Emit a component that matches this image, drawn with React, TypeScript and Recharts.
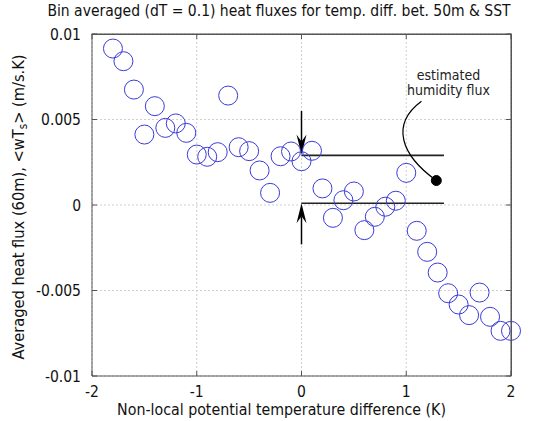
import React from 'react';
import {
  ScatterChart,
  Scatter,
  XAxis,
  YAxis,
  CartesianGrid,
  ReferenceLine,
  ReferenceDot,
} from 'recharts';

const FONT = '"DejaVu Sans Condensed", "DejaVu Sans", sans-serif';

// bin centres (K) and averaged heat flux (m/s.K)
const binTemps = [
  -1.8, -1.7, -1.6, -1.5, -1.4, -1.3, -1.2, -1.1, -1.0, -0.9, -0.8, -0.7, -0.6,
  -0.5, -0.4, -0.3, -0.2, -0.1, 0.0, 0.1, 0.2, 0.3, 0.4, 0.5, 0.6, 0.7, 0.8,
  0.9, 1.0, 1.1, 1.2, 1.3, 1.4, 1.5, 1.6, 1.7, 1.8, 1.9, 2.0,
];
const heatFlux = [
  0.00915, 0.00841, 0.00675, 0.00412, 0.00578, 0.00451, 0.00477, 0.00422,
  0.00295, 0.00282, 0.00309, 0.0064, 0.00338, 0.00315, 0.00202, 0.00071,
  0.00285, 0.00313, 0.00256, 0.00317, 0.00097, -0.00075, 0.00028, 0.00079,
  -0.00147, -0.00069, -0.0001, 0.00025, 0.00188, -0.00151, -0.00274, -0.00395,
  -0.00516, -0.00582, -0.00644, -0.00512, -0.00654, -0.00736, -0.00736,
];

const xTicks = [-2, -1, 0, 1, 2];
const yTicks = [-0.01, -0.005, 0, 0.005, 0.01];
const xMin = xTicks[0];
const xMax = xTicks[xTicks.length - 1];
const yMin = yTicks[0];
const yMax = yTicks[yTicks.length - 1];

// annotation anchors (data units)
const upperLevel = 0.0029;
const lowerLevel = 0.0001;
const lineEndX = 1.36;
const upperArrowFrom = 0.0055;
const lowerArrowFrom = -0.0023;
const noteStart = { x: 1.145, y: 0.00607 };
const noteDot = { x: 1.287, y: 0.00143 };
const noteLines = ['estimated', 'humidity flux'];

const data = binTemps.map((t, i) => ({ x: t, y: heatFlux[i] }));

const W = 558;
const H = 421;
const MARGIN = { top: 34, right: 47, left: 0, bottom: 0 };
const Y_AXIS_W = 92;
const X_AXIS_H = 45;
const FRAME = '#555';

const Ring = (props: any) => {
  if (props.cx == null || props.cy == null) return null;
  return <circle cx={props.cx} cy={props.cy} r={9.5} fill="none" stroke="#3b3bd8" strokeWidth={1} />;
};

const Arrow = (props: any) => {
  const { x1, y1, x2, y2 } = props;
  const len = Math.hypot(x2 - x1, y2 - y1) || 1;
  const ux = (x2 - x1) / len;
  const uy = (y2 - y1) / len;
  const nx = -uy;
  const ny = ux;
  const L = 20;
  const hw = 5;
  const notchX = x2 - ux * 13;
  const notchY = y2 - uy * 13;
  const pts = [
    [x2, y2],
    [x2 - ux * L + nx * hw, y2 - uy * L + ny * hw],
    [notchX, notchY],
    [x2 - ux * L - nx * hw, y2 - uy * L - ny * hw],
  ]
    .map((p) => p.join(','))
    .join(' ');
  return (
    <g>
      <line x1={x1} y1={y1} x2={notchX} y2={notchY} stroke="#000" strokeWidth={1.5} />
      <polygon points={pts} fill="#000" />
    </g>
  );
};

const Bar = (props: any) => (
  <line x1={props.x1} y1={props.y1} x2={props.x2} y2={props.y2} stroke="#222" strokeWidth={1.6} />
);

// frame edge: solid line plus 5px inward ticks at the tick values
const Edge = (side: 'top' | 'right') => (props: any) => {
  const { x1, y1, x2, y2 } = props;
  const marks =
    side === 'top'
      ? xTicks.map((t) => {
          const x = x1 + ((t - xMin) / (xMax - xMin)) * (x2 - x1);
          return <rect key={t} x={x - 0.5} y={y1} width={1} height={5} fill={FRAME} />;
        })
      : yTicks.map((t) => {
          const y = y1 + ((t - yMin) / (yMax - yMin)) * (y2 - y1);
          return <rect key={t} x={x1 - 5} y={y - 0.5} width={5} height={1} fill={FRAME} />;
        });
  return (
    <g>
      <rect
        x={Math.min(x1, x2) - 0.5}
        y={Math.min(y1, y2) - 0.5}
        width={Math.abs(x2 - x1) + 1}
        height={Math.abs(y2 - y1) + 1}
        fill={FRAME}
      />
      {marks}
    </g>
  );
};

const NoteCurve = (props: any) => {
  const { x1, y1, x2, y2 } = props;
  const d = `M${x1},${y1} C${x1 - 31},${y1 + 23} ${x2 - 36},${y2 - 26} ${x2},${y2}`;
  return (
    <g>
      <path d={d} fill="none" stroke="#000" strokeWidth={1.2} />
      {noteLines.map((t, i) => (
        <text
          key={t}
          x={x1 + 27}
          y={y1 - 21.5 + i * 15.5}
          textAnchor="middle"
          fontFamily={FONT}
          fontSize={14}
          fill="#222"
        >
          {t}
        </text>
      ))}
    </g>
  );
};

const YLabel = (props: any) => {
  const vb = props.viewBox || {};
  const cx = 18;
  const cy = (vb.y ?? 34) + (vb.height ?? 342) / 2 + 2;
  return (
    <text
      transform={`translate(${cx},${cy}) rotate(-90)`}
      textAnchor="middle"
      dominantBaseline="central"
      fontFamily={FONT}
      fontSize={16.3}
      fill="#111"
    >
      Averaged heat flux (60m), {'<wT'}
      <tspan fontSize={11.5} dy={5}>s</tspan>
      <tspan dy={-5}>{'> (m/s.K)'}</tspan>
    </text>
  );
};

const tickStyle = { fontFamily: FONT, fontSize: 15.5, fill: '#111' };

export default function App() {
  const boxLeft = MARGIN.left + Y_AXIS_W;
  const boxTop = MARGIN.top;
  const boxRight = W - MARGIN.right;
  const boxBottom = H - MARGIN.bottom - X_AXIS_H;
  return (
    <div style={{ position: 'absolute', left: 0, top: 0, width: W, height: H, background: '#fff' }}>
      <div
        style={{
          position: 'absolute',
          left: 0,
          width: W,
          top: 2,
          textAlign: 'center',
          fontFamily: FONT,
          fontSize: 15.5,
          color: '#111',
          whiteSpace: 'nowrap',
        }}
      >
        Bin averaged (dT = 0.1) heat fluxes for temp. diff. bet. 50m &amp; SST
      </div>
      <div
        style={{
          position: 'absolute',
          left: 0,
          width: 563,
          top: 400,
          textAlign: 'center',
          fontFamily: FONT,
          fontSize: 15.8,
          color: '#111',
          whiteSpace: 'nowrap',
        }}
      >
        Non-local potential temperature difference (K)
      </div>
      <div style={{ position: 'absolute', left: 0, top: 0 }}>
        <ScatterChart width={W} height={H} margin={MARGIN}>
          <CartesianGrid stroke="#cfcfcf" strokeDasharray="2 2" />
          <XAxis
            type="number"
            dataKey="x"
            domain={[xMin, xMax]}
            ticks={xTicks}
            height={X_AXIS_H}
            tickSize={-5}
            tickMargin={15}
            stroke={FRAME}
            tick={tickStyle}
          />
          <YAxis
            type="number"
            dataKey="y"
            domain={[yMin, yMax]}
            ticks={yTicks}
            width={Y_AXIS_W}
            tickSize={-5}
            tickMargin={16}
            stroke={FRAME}
            tick={tickStyle}
            label={<YLabel />}
          />
          <ReferenceLine
            segment={[{ x: xMin, y: yMax }, { x: xMax, y: yMax }]}
            ifOverflow="visible"
            shape={Edge('top')}
          />
          <ReferenceLine
            segment={[{ x: xMax, y: yMin }, { x: xMax, y: yMax }]}
            ifOverflow="visible"
            shape={Edge('right')}
          />
          <Scatter data={data} shape={<Ring />} isAnimationActive={false} />
          <ReferenceLine
            segment={[{ x: 0, y: upperLevel }, { x: lineEndX, y: upperLevel }]}
            ifOverflow="visible"
            shape={Bar}
          />
          <ReferenceLine
            segment={[{ x: 0, y: lowerLevel }, { x: lineEndX, y: lowerLevel }]}
            ifOverflow="visible"
            shape={Bar}
          />
          <ReferenceLine
            segment={[{ x: 0, y: upperArrowFrom }, { x: 0, y: upperLevel + 0.00005 }]}
            ifOverflow="visible"
            shape={Arrow}
          />
          <ReferenceLine
            segment={[{ x: 0, y: lowerArrowFrom }, { x: 0, y: lowerLevel }]}
            ifOverflow="visible"
            shape={Arrow}
          />
          <ReferenceLine segment={[noteStart, noteDot]} ifOverflow="visible" shape={NoteCurve} />
          <ReferenceDot x={noteDot.x} y={noteDot.y} r={5} fill="#000" stroke="#000" ifOverflow="visible" />
        </ScatterChart>
      </div>
      <div
        style={{
          position: 'absolute',
          left: boxLeft,
          top: boxTop,
          width: boxRight - boxLeft + 1,
          height: boxBottom - boxTop,
          boxSizing: 'border-box',
          borderTop: `1px solid ${FRAME}`,
          borderRight: `1px solid ${FRAME}`,
          pointerEvents: 'none',
        }}
      />
    </div>
  );
}
